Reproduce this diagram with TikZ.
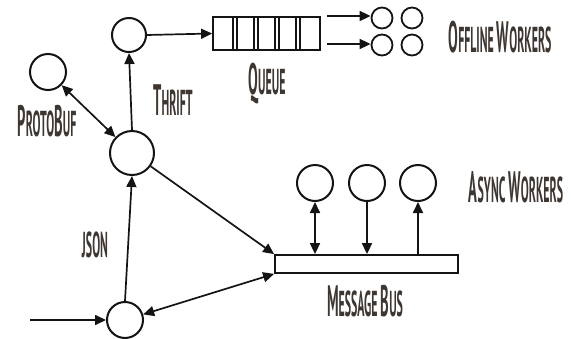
\documentclass[tikz,border=0pt]{standalone}
\usepackage{fontspec}
\usetikzlibrary{arrows.meta}
\newfontfamily\handfont[FakeStretch=0.33]{PT Sans}
\definecolor{ink}{HTML}{141414}
\definecolor{labelink}{HTML}{3E3630}
% fake small capitals: big initial, smaller rest
\newcommand\initcap[1]{{\fontsize{44}{44}\selectfont #1}}
\newcommand\restcap[1]{{\fontsize{36}{36}\selectfont #1}}
\newcommand\wgap{\hspace{3pt}}
\tikzset{
  blob/.style={circle, draw=ink, line width=2pt, inner sep=0pt, minimum size=#1},
  flow/.style={draw=ink, line width=1.7pt, -{Triangle[length=11pt,width=10pt]}},
  twoway/.style={draw=ink, line width=1.7pt, {Triangle[length=11pt,width=10pt]}-{Triangle[length=11pt,width=10pt]}},
  tag/.style={text=labelink, font=\handfont\bfseries, inner sep=0pt, anchor=center},
  boxline/.style={draw=ink, line width=1.8pt}
}
\begin{document}
\begin{tikzpicture}[x=1pt, y=-1pt]
\useasboundingbox (0,0) rectangle (571,338);

% service nodes
\node[blob=34pt] (thrift) at (129,35) {};
\node[blob=36pt] (proto) at (48,72) {};
\node[blob=44pt] (hub) at (132,153) {};
\node[blob=36pt] (entry) at (125,320) {};

% queue with its slots
\node[boxline, rectangle, minimum width=107pt, minimum height=33pt, inner sep=0pt] (queue) at (266.5,33.5) {};
\foreach \x in {233,254,275,296} {
  \draw[boxline] (\x,17) -- (\x,50);
  \draw[boxline] (\x+4,17) -- (\x+4,50);
}

% offline workers
\node[blob=21pt, line width=1.8pt] (off1) at (382,18) {};
\node[blob=21pt, line width=1.8pt] (off2) at (412,18) {};
\node[blob=21pt, line width=1.8pt] (off3) at (382,45) {};
\node[blob=21pt, line width=1.8pt] (off4) at (412,45) {};
\coordinate (qout1) at (327,16);
\coordinate (qout2) at (327,44);

% message bus
\node[boxline, rectangle, minimum width=183pt, minimum height=18pt, inner sep=0pt] (bus) at (366.5,264) {};

% async workers
\node[blob=36pt] (async1) at (315,183) {};
\node[blob=36pt] (async2) at (367,183) {};
\node[blob=36pt] (async3) at (418,183) {};

% incoming request
\coordinate (input) at (30,320);

% connectors
\draw[flow] (thrift.east) -- (queue.west);
\draw[flow] (qout1) -- (off1.west |- qout1);
\draw[flow] (qout2) -- (off3.west |- qout2);
\draw[twoway] (proto) -- (hub);
\draw[flow] (hub.north) -- (thrift.south);
\draw[flow] (entry.north) -- (hub.south);
\draw[flow] (hub) -- (bus.north west);
\draw[twoway] (bus.south west) -- (entry);
\draw[flow] (input) -- (entry.west);
\draw[twoway] (async1.south) -- (async1.south |- bus.north);
\draw[flow] (async2.south) -- (async2.south |- bus.north);
\draw[flow] (async3.south |- bus.north) -- (async3.south);

% labels
\node[tag] (lbloff) at (500,37) {\initcap{O}\restcap{FFLINE}\wgap\initcap{W}\restcap{ORKERS}};
\node[tag] (lblqueue) at (267,84) {\initcap{Q}\restcap{UEUE}};
\node[tag] (lblthrift) at (173,100) {\initcap{T}\restcap{HRIFT}};
\node[tag] (lblproto) at (47,121) {\initcap{P}\restcap{ROTO}\initcap{B}\restcap{UF}};
\node[tag] (lbljson) at (95,245) {\restcap{JSON}};
\node[tag] (lblasync) at (516,187) {\initcap{A}\restcap{SYNC}\wgap\initcap{W}\restcap{ORKERS}};
\node[tag] (lblbus) at (365,301) {\initcap{M}\restcap{ESSAGE}\wgap\initcap{B}\restcap{US}};
\end{tikzpicture}
\end{document}
